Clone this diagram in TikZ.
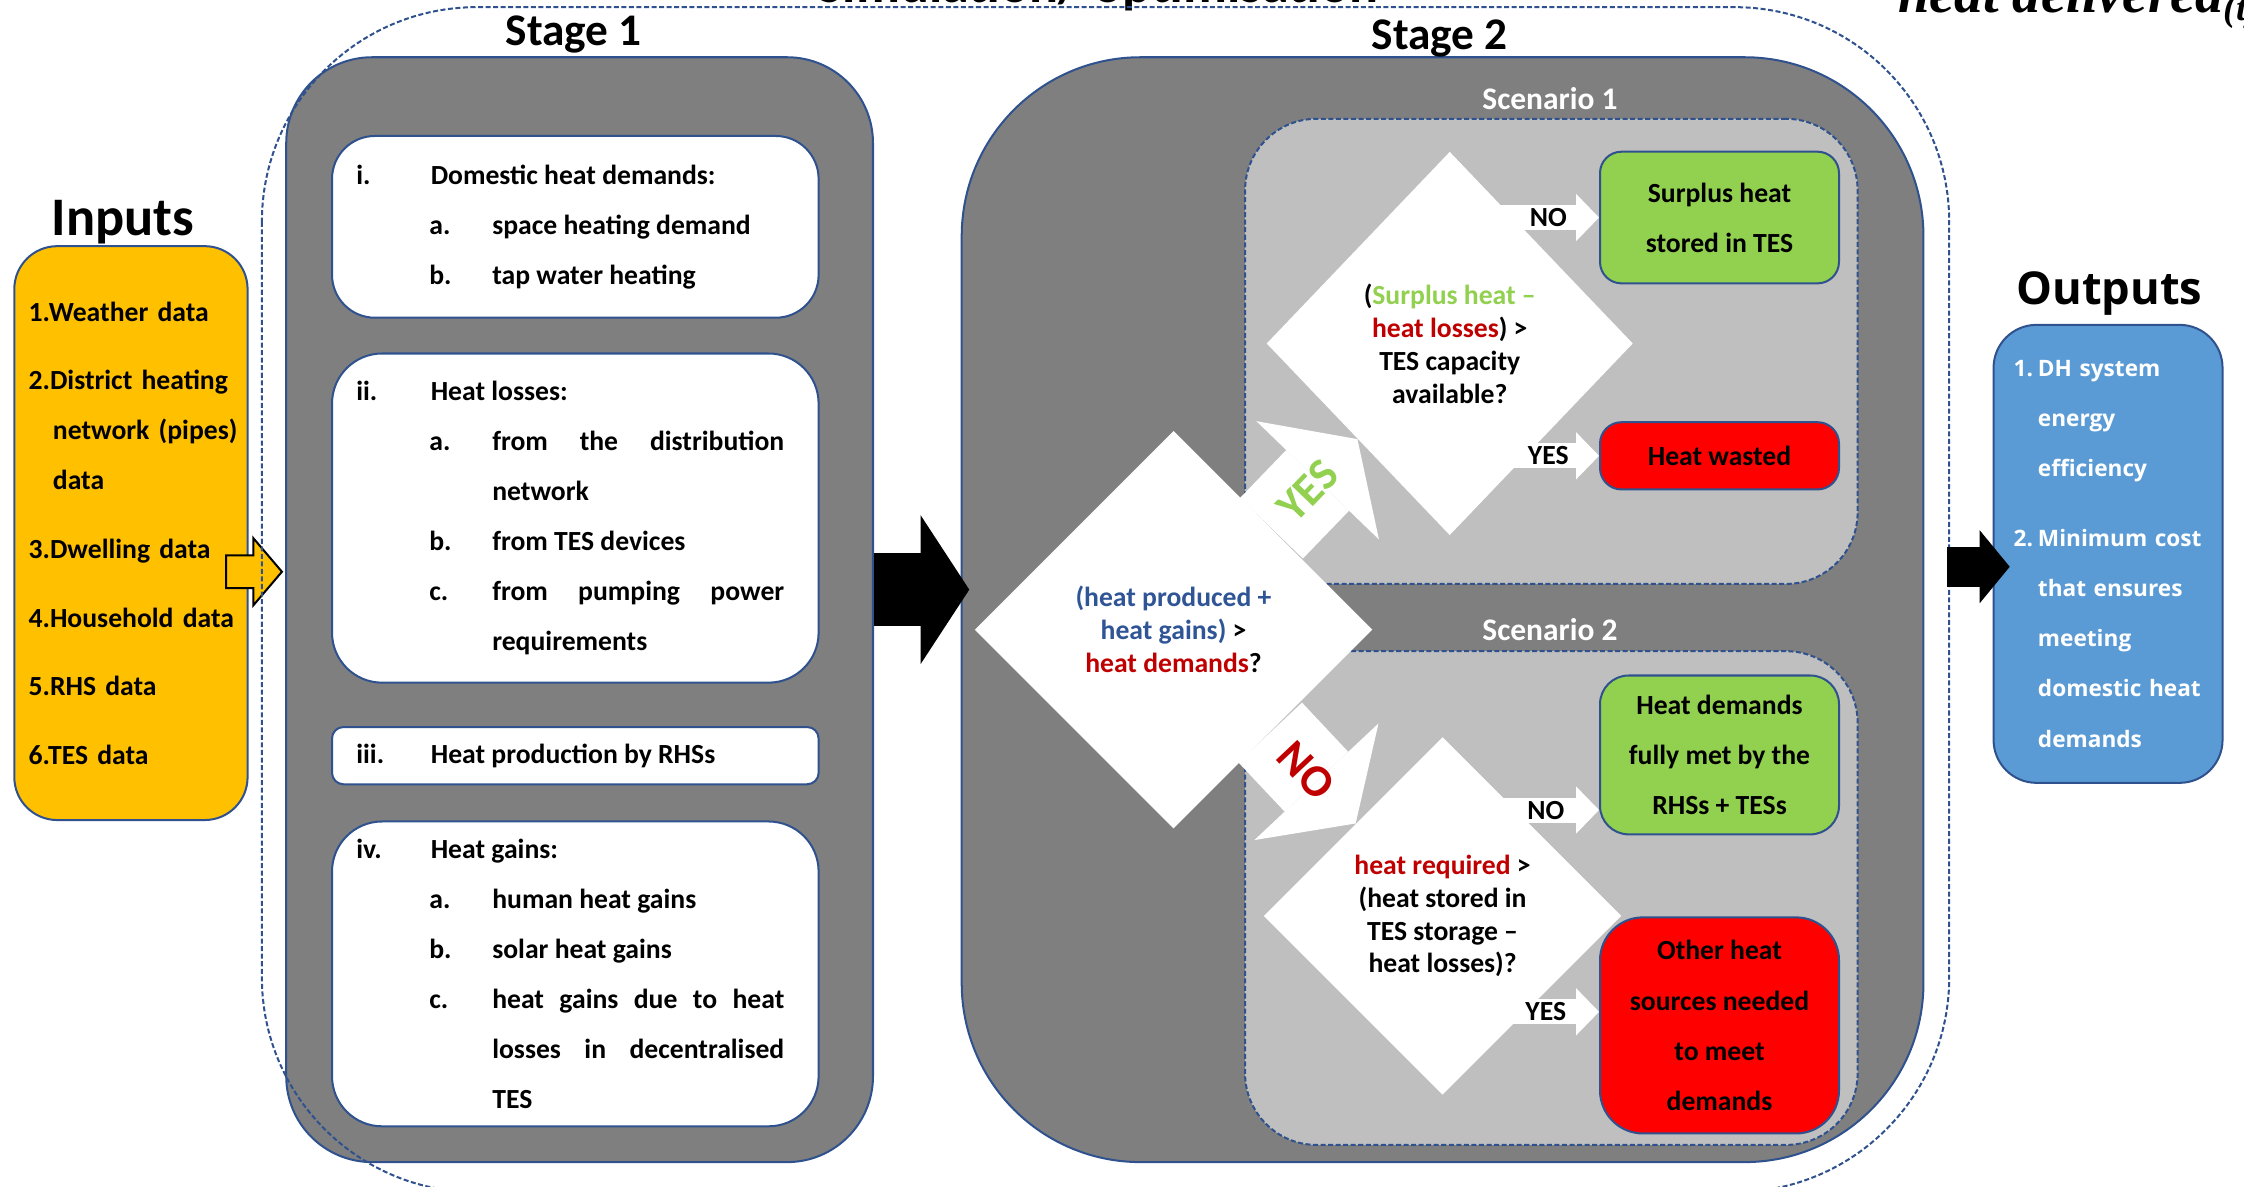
\documentclass[tikz,border=0pt]{standalone}
\usepackage{fontspec}
\setmainfont{Carlito}
\newfontfamily\osans{Open Sans}
\newfontfamily\eqfont{Liberation Serif}
\usetikzlibrary{shapes.geometric,arrows.meta,calc}

\definecolor{bordblue}{HTML}{2F528F}
\definecolor{stagegray}{HTML}{7F7F7F}
\definecolor{scengray}{HTML}{BFBFBF}
\definecolor{inorange}{HTML}{FFC000}
\definecolor{okgreen}{HTML}{92D050}
\definecolor{badred}{HTML}{FF0000}
\definecolor{outblue}{HTML}{5B9BD5}
\definecolor{txtblue}{HTML}{2F5597}
\definecolor{txtred}{HTML}{C00000}

\hyphenpenalty=10000
\tolerance=10000

\newcommand\bodyfont{\bfseries\fontsize{11}{19.9}\selectfont}
\newcommand\diafont{\bfseries\fontsize{11}{13.1}\selectfont}
% list lines inside the stage 1 boxes
\newcommand\stgitem[2]{\leftskip=0mm\rightskip=0mm\hangindent=10.4mm\hangafter=1\noindent\makebox[10.4mm][l]{#1}#2\par}
\newcommand\stgsub[2]{\leftskip=10.2mm\rightskip=1.4mm\hangindent=8.8mm\hangafter=1\noindent\makebox[8.8mm][l]{#1}#2\par}

\tikzset{
  blueline/.style={draw=bordblue, line width=0.8pt},
  dashline/.style={draw=bordblue, line width=0.8pt, dash pattern=on 2pt off 1pt},
  heading/.style={font=\bfseries\fontsize{#1}{#1}\selectfont, inner sep=0pt},
  stagebox/.style={blueline, fill=stagegray, minimum height=154.4mm},
  listbox/.style={blueline, fill=white, minimum width=68mm, text width=61.2mm, inner xsep=3.4mm, align=justify, font=\bodyfont},
  scenbox/.style={dashline, fill=scengray, minimum width=85.6mm, rounded corners=10mm},
  decision/.style={diamond, fill=white, inner sep=0pt, align=center, font=\diafont},
  result/.style={blueline, minimum width=33.4mm, rounded corners=3mm, align=center, font=\bodyfont},
  bigarrow/.style={line width=10.2mm, -{Triangle[length=6.8mm, width=20.8mm, line width=0pt]}},
  outarrow/.style={line width=5.6mm, -{Triangle[length=4.2mm, width=10.2mm, line width=0pt]}},
  decarrow/.style={white, line width=12.2mm, -{Triangle[length=8mm, width=23.8mm, line width=0pt]}},
  resarrow/.style={white, line width=3.5mm, -{Triangle[length=3.2mm, width=6.6mm, line width=0pt]}},
  declabel/.style={sloped, font=\bfseries\fontsize{18}{18}\selectfont},
  reslabel/.style={text=black, font=\bfseries\fontsize{11}{11}\selectfont},
}

\begin{document}
\begin{tikzpicture}[x=0.2mm, y=-0.2mm]
\useasboundingbox (0,0) rectangle (1568,829);

\node[heading=21.5, anchor=base] (simtitle) at (767,2) {Simulation/ optimisation};
\node[anchor=base west, font=\eqfont\bfseries\itshape\fontsize{22.5}{22.5}\selectfont, inner sep=0pt] (heatdel) at (1326,9) {heat delivered\raisebox{-3pt}{\fontsize{15}{15}\selectfont(t)}};

% inputs
\node[heading=21.6] (intitle) at (86,155) {Inputs};
\node[blueline, fill=inorange, rounded corners=6mm, minimum width=32.6mm, minimum height=80.2mm,
      text width=28.6mm, inner xsep=2mm, align=left, font=\bodyfont] (inputs) at (91.5,372.5)
  {1.Weather~data\\[2.6mm]
   2.District~heating\\
   \hspace*{3.4mm}network~(pipes)\\
   \hspace*{3.4mm}data\\[2.6mm]
   3.Dwelling~data\\[2.6mm]
   4.Household~data\\[2.6mm]
   5.RHS~data\\[2.6mm]
   6.TES~data};
\draw[fill=inorange, line width=0.8pt] (158,388) -- (177,388) -- (177,376) -- (197,399.5)
  -- (177,423) -- (177,411) -- (158,411) -- cycle;

% stage 1
\node[stagebox, rounded corners=12mm, minimum width=82mm] (stage1) at (405,426) {};
\node[heading=18] (st1title) at (401,24) {Stage 1};
\node[listbox, rounded corners=6mm, minimum height=25.4mm] (demands) at (402,158.5)
  {\stgitem{i.}{Domestic heat demands:}
   \stgsub{a.}{space heating demand}
   \stgsub{b.}{tap water heating}};
\node[listbox, rounded corners=7mm, minimum height=46mm] (losses) at (402,362)
  {\stgitem{ii.}{Heat losses:}
   \stgsub{a.}{from the distribution\linebreak network}
   \stgsub{b.}{from TES devices}
   \stgsub{c.}{from pumping power\linebreak requirements}};
\node[listbox, rounded corners=1.6mm, minimum height=8mm] (production) at (402,528)
  {\stgitem{iii.}{Heat production by RHSs}};
\node[listbox, rounded corners=7mm, minimum height=42.6mm] (gains) at (402,680.5)
  {\stgitem{iv.}{Heat gains:}
   \stgsub{a.}{human heat gains}
   \stgsub{b.}{solar heat gains}
   \stgsub{c.}{heat gains due to heat\linebreak losses in decentralised\linebreak TES}};

% stage 2
\node[stagebox, rounded corners=25mm, minimum width=134.4mm] (stage2) at (1008,426) {};
\node[heading=18] (st2title) at (1006,27) {Stage 2};
\node[scenbox, minimum height=65mm] (scen1) at (1084,245.5) {};
\node[scenbox, minimum height=69mm] (scen2) at (1084,627.5) {};
\node[text=white, font=\bfseries\fontsize{12.5}{12.5}\selectfont] (sc1lbl) at (1083,69) {Scenario 1};
\node[text=white, font=\bfseries\fontsize{12.5}{12.5}\selectfont] (sc2lbl) at (1083,440) {Scenario 2};

% outer frame of the simulation / optimisation part
\draw[dashline, rounded corners=30mm] (183,5) rectangle (1362,833);

\node[result, fill=okgreen, minimum height=18.4mm] (surplus) at (1201.5,152) {Surplus heat\\stored in TES};
\node[result, fill=badred, minimum height=9.4mm] (wasted) at (1201.5,318.5) {Heat wasted};
\node[result, fill=okgreen, minimum height=22.2mm, rounded corners=4mm] (met) at (1201.5,527.5) {Heat demands\\fully met by the\\RHSs + TESs};
\node[result, fill=badred, minimum height=30.2mm, rounded corners=6mm] (other) at (1201.5,716.5) {Other heat\\sources needed\\to meet\\demands};

\node[decision, minimum width=55.6mm, minimum height=55.6mm] (dmain) at (820,440)
  {\textcolor{txtblue}{(heat produced +}\\\textcolor{txtblue}{heat gains)} >\\\textcolor{txtred}{heat demands}?};
\node[decision, minimum width=51.2mm, minimum height=53.6mm] (dsc1) at (1013,240)
  {(\textcolor{okgreen}{Surplus heat –}\\\textcolor{txtred}{heat losses}) >\\TES capacity\\available?};
\node[decision, minimum width=50mm, minimum height=50mm] (dsc2) at (1008,640)
  {\textcolor{txtred}{heat required} >\\(heat stored in\\TES storage –\\heat losses)?};

\coordinate (metin) at ([yshift=-7.7mm]met.west);
\coordinate (otherin) at ([yshift=1.9mm]other.west);
\draw[resarrow] (dsc1.center |- surplus.west) -- (surplus.west) node[reslabel, pos=0.66] (s1no) {NO};
\draw[resarrow] (dsc1.center |- wasted.west) -- (wasted.west) node[reslabel, pos=0.66] (s1yes) {YES};
\draw[resarrow] (dsc2.center |- metin) -- (metin) node[reslabel, pos=0.66] (s2no) {NO};
\draw[resarrow] (dsc2.center |- otherin) -- (otherin) node[reslabel, pos=0.66] (s2yes) {YES};

\draw[decarrow] (dmain) -- (dsc1) node[declabel, text=okgreen, pos=0.42] (yeslbl) {YES};
\draw[decarrow] (dmain) -- (dsc2) node[declabel, text=txtred, pos=0.42] (nolbl) {NO};

% outputs
\node[font=\osans\bfseries\fontsize{18}{18}\selectfont, inner sep=0pt] (outtitle) at (1474,205) {Outputs};
\node[blueline, fill=outblue, rounded corners=6mm, minimum width=32mm, minimum height=64mm,
      text width=26.4mm, inner xsep=2.8mm, align=left, text=white,
      font=\osans\bfseries\fontsize{9}{19.9}\selectfont] (outputs) at (1473,387)
  {\makebox[3.4mm][l]{1.}DH~system\\
   \hspace*{3.4mm}energy\\
   \hspace*{3.4mm}efficiency\\[2.8mm]
   \makebox[3.4mm][l]{2.}Minimum~cost\\
   \hspace*{3.4mm}that~ensures\\
   \hspace*{3.4mm}meeting\\
   \hspace*{3.4mm}domestic~heat\\
   \hspace*{3.4mm}demands};

% block arrows between the stages
\draw[bigarrow, shorten >=-1.2mm] ([yshift=2.8mm]stage1.east) -- ([yshift=2.8mm]stage2.west);
\draw[outarrow, shorten <=3.2mm, shorten >=-2.4mm] ([yshift=6mm]stage2.east) -- ([yshift=6mm]stage2.east -| outputs.west);
\end{tikzpicture}
\end{document}
